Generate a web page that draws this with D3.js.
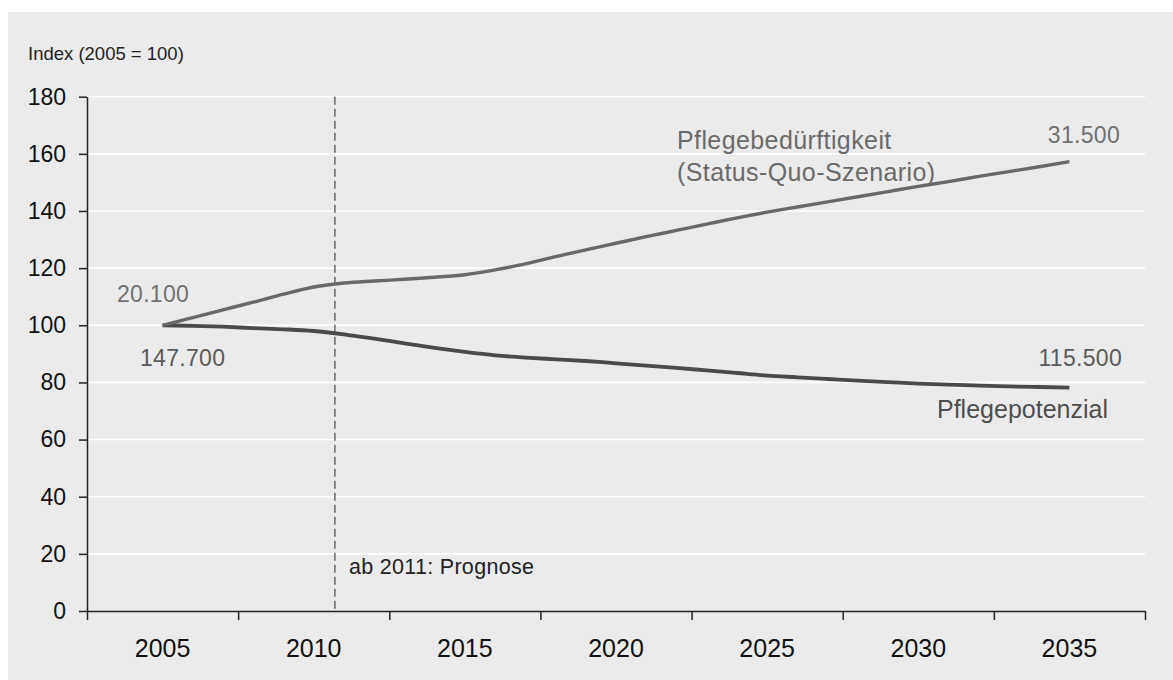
<!DOCTYPE html>
<html>
<head>
<meta charset="utf-8">
<script src="https://cdn.jsdelivr.net/npm/d3@7"></script>
<style>
  html, body { margin: 0; padding: 0; background: #ffffff; }
  svg { display: block; font-family: "Liberation Sans", Arial, sans-serif; }
</style>
</head>
<body>
<svg id="chart" width="1173" height="680"></svg>
<script>
// ---------- data ----------
const years = [2005, 2006, 2007, 2008, 2009, 2010, 2011, 2012, 2013, 2014,
               2015, 2016, 2017, 2018, 2019, 2020, 2021, 2022, 2023, 2024,
               2025, 2026, 2027, 2028, 2029, 2030, 2031, 2032, 2033, 2034, 2035];
const pflegebeduerftigkeit = [100.0, 102.7, 105.4, 108.1, 110.9, 113.4, 114.8, 115.5, 116.1, 116.8,
                              117.7, 119.4, 121.5, 124.0, 126.4, 128.7, 131.0, 133.2, 135.4, 137.6,
                              139.6, 141.4, 143.2, 145.0, 146.8, 148.6, 150.3, 152.1, 153.8, 155.5, 157.3];
const pflegepotenzial = [100.0, 99.8, 99.5, 99.0, 98.6, 98.0, 96.8, 95.3, 93.7, 92.1,
                         90.7, 89.5, 88.7, 88.1, 87.5, 86.7, 85.9, 85.1, 84.2, 83.3,
                         82.4, 81.8, 81.2, 80.6, 80.1, 79.6, 79.2, 78.9, 78.6, 78.4, 78.2];
const xTickLabels = ["2005", "2010", "2015", "2020", "2025", "2030", "2035"];
const yTicks = [0, 20, 40, 60, 80, 100, 120, 140, 160, 180];
const prognoseStart = 2010.7;
const endLabels = { start1: "20.100", start2: "147.700", end1: "31.500", end2: "115.500" };

// ---------- layout ----------
const svg = d3.select("#chart");
const pLeft = 87, pRight = 1145, pTop = 96.7, pBottom = 611;

svg.append("rect").attr("x", 8).attr("y", 12).attr("width", 1173 - 8).attr("height", 680 - 12)
  .attr("fill", "#ebebeb");

const yScale = d3.scaleLinear().domain([0, 180]).range([pBottom, pTop]);
const xBand = d3.scaleBand().domain(xTickLabels).range([pLeft, pRight]);
const bandYears = 5;
const x = d3.scaleLinear()
  .domain([+xTickLabels[0] - bandYears / 2, +xTickLabels[xTickLabels.length - 1] + bandYears / 2])
  .range([pLeft, pRight]);

// gridlines
svg.append("g").selectAll("line").data(yTicks.filter(d => d > 0)).join("line")
  .attr("x1", pLeft).attr("x2", pRight)
  .attr("y1", d => yScale(d)).attr("y2", d => yScale(d))
  .attr("stroke", "#ffffff").attr("stroke-width", 1.6);

// prognosis dashed line
svg.append("line")
  .attr("x1", x(prognoseStart)).attr("x2", x(prognoseStart))
  .attr("y1", yScale(180)).attr("y2", yScale(0))
  .attr("stroke", "#707070").attr("stroke-width", 1.6)
  .attr("stroke-dasharray", "8,4");

// y axis
const yAxis = svg.append("g").attr("transform", `translate(${pLeft},0)`)
  .call(d3.axisLeft(yScale).tickValues(yTicks).tickSize(8).tickSizeOuter(0).tickPadding(13));
yAxis.selectAll("text").attr("font-size", 23).attr("fill", "#111")
  .attr("font-family", "'Liberation Sans', Arial, sans-serif");
yAxis.selectAll("line, path").attr("stroke", "#222").attr("stroke-width", 1.5);

// x axis: tick marks at band boundaries
const boundaries = xTickLabels.map(d => +d - bandYears / 2).concat([+xTickLabels[xTickLabels.length - 1] + bandYears / 2]);
const xAxisTicks = svg.append("g").attr("transform", `translate(0,${pBottom})`)
  .call(d3.axisBottom(x).tickValues(boundaries).tickSize(9).tickSizeOuter(0).tickFormat(""));
xAxisTicks.selectAll("line, path").attr("stroke", "#222").attr("stroke-width", 1.5);

// x axis labels centred in bands
const xAxisLabels = svg.append("g").attr("transform", `translate(0,${pBottom})`)
  .call(d3.axisBottom(xBand).tickSize(0).tickPadding(28));
xAxisLabels.select(".domain").remove();
xAxisLabels.selectAll("text").attr("font-size", 25).attr("fill", "#111")
  .attr("font-family", "'Liberation Sans', Arial, sans-serif");

// lines
const line = d3.line().x(d => x(d[0])).y(d => yScale(d[1])).curve(d3.curveMonotoneX);
svg.append("path").datum(years.map((yr, i) => [yr, pflegepotenzial[i]]))
  .attr("d", line).attr("fill", "none").attr("stroke", "#4a4a4a").attr("stroke-width", 3.8)
  .attr("stroke-linejoin", "round");
svg.append("path").datum(years.map((yr, i) => [yr, pflegebeduerftigkeit[i]]))
  .attr("d", line).attr("fill", "none").attr("stroke", "#686868").attr("stroke-width", 3.4)
  .attr("stroke-linejoin", "round");

// texts
const txt = (s, px, py, size, fill, anchor) => svg.append("text")
  .attr("x", px).attr("y", py).attr("font-size", size).attr("fill", fill)
  .attr("text-anchor", anchor || "start").text(s);

txt("Index (2005 = 100)", 28, 60, 18.5, "#222");
txt("Pflegebedürftigkeit", 677, 149, 25, "#6a6a6a").attr("letter-spacing", 0.4);
txt("(Status-Quo-Szenario)", 677, 181, 25, "#6a6a6a").attr("letter-spacing", 0.4);
txt(endLabels.end1, 1120, 143, 23, "#707070", "end").attr("letter-spacing", 0.3);
txt(endLabels.start1, 117, 302, 23, "#707070").attr("letter-spacing", 0.3);
txt(endLabels.start2, 140, 366, 23, "#5a5a5a").attr("letter-spacing", 0.3);
txt(endLabels.end2, 1122, 366, 23, "#5a5a5a", "end").attr("letter-spacing", 0.3);
txt("Pflegepotenzial", 937, 418, 25, "#4e4e4e");
txt("ab 2011: Prognose", 349, 574, 21.5, "#222").attr("letter-spacing", 0.3);
</script>
</body>
</html>
